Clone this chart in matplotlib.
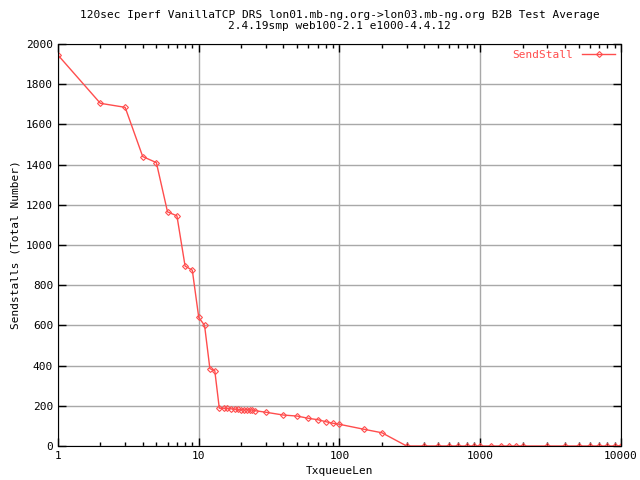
import matplotlib
matplotlib.use('Agg')
import matplotlib.pyplot as plt
from matplotlib.ticker import FixedLocator, LogLocator, NullFormatter

# TxqueueLen values and measured send stalls
txqueuelen = [1, 2, 3, 4, 5, 6, 7, 8, 9, 10, 11, 12, 13,
              14, 15, 16, 17, 18, 19, 20, 21, 22, 23, 24, 25,
              30, 40, 50, 60, 70, 80, 90, 100, 150, 200, 300,
              400, 500, 600, 700, 800, 900, 1000, 1200, 1400, 1600, 1800, 2000,
              3000, 4000, 5000, 6000, 7000, 8000, 9000, 10000]
sendstalls = [1945, 1705, 1685, 1440, 1410, 1165, 1145, 895, 875, 640, 600, 385, 375,
              188, 188, 187, 185, 184, 182, 180, 179, 181, 178, 179, 176,
              168, 154, 149, 138, 131, 121, 113, 108, 83, 66, 0,
              0, 0, 0, 0, 0, 0, 0, 0, 0, 0, 0, 0,
              0, 0, 0, 0, 0, 0, 0, 0]

RED = '#ff4d4d'
mono = 'DejaVu Sans Mono'

fig = plt.figure(figsize=(6.4, 4.8), dpi=100)
ax = fig.add_axes([0.0906, 0.0708, 0.8797, 0.8375])

ax.plot(txqueuelen, sendstalls, color=RED, lw=1, marker='D', ms=3,
        mfc='none', mec=RED, mew=0.8, label='SendStall')

ax.set_xscale('log')
ax.set_xlim(1, 10000)
ax.set_ylim(0, 2000)
ax.xaxis.set_major_locator(LogLocator(base=10))
ax.xaxis.set_minor_locator(LogLocator(base=10, subs=range(2, 10)))
ax.xaxis.set_minor_formatter(NullFormatter())
ax.set_xticks([1, 10, 100, 1000, 10000])
ax.set_xticklabels(['1', '10', '100', '1000', '10000'])
ax.yaxis.set_major_locator(FixedLocator(range(0, 2001, 200)))

ax.grid(True, which='major', color='#a8a8a8', lw=1)
ax.tick_params(which='both', direction='in', top=True, right=True,
               labelsize=8, width=1)
ax.tick_params(which='major', length=6)
ax.tick_params(which='minor', length=3)
for lab in ax.get_xticklabels() + ax.get_yticklabels():
    lab.set_family(mono)

ax.set_xlabel('TxqueueLen', family=mono, fontsize=8)
ax.set_ylabel('Sendstalls (Total Number)', family=mono, fontsize=8)
ax.set_title('120sec Iperf VanillaTCP DRS lon01.mb-ng.org->lon03.mb-ng.org B2B Test Average\n'
             '2.4.19smp web100-2.1 e1000-4.4.12', family=mono, fontsize=8,
             linespacing=1.15, pad=11)

leg = ax.legend(loc='upper right', frameon=False, prop={'family': mono, 'size': 8},
                markerfirst=False, handlelength=3, borderaxespad=0.1)
for t in leg.get_texts():
    t.set_color(RED)

plt.savefig('out.png', dpi=100)
plt.close()
